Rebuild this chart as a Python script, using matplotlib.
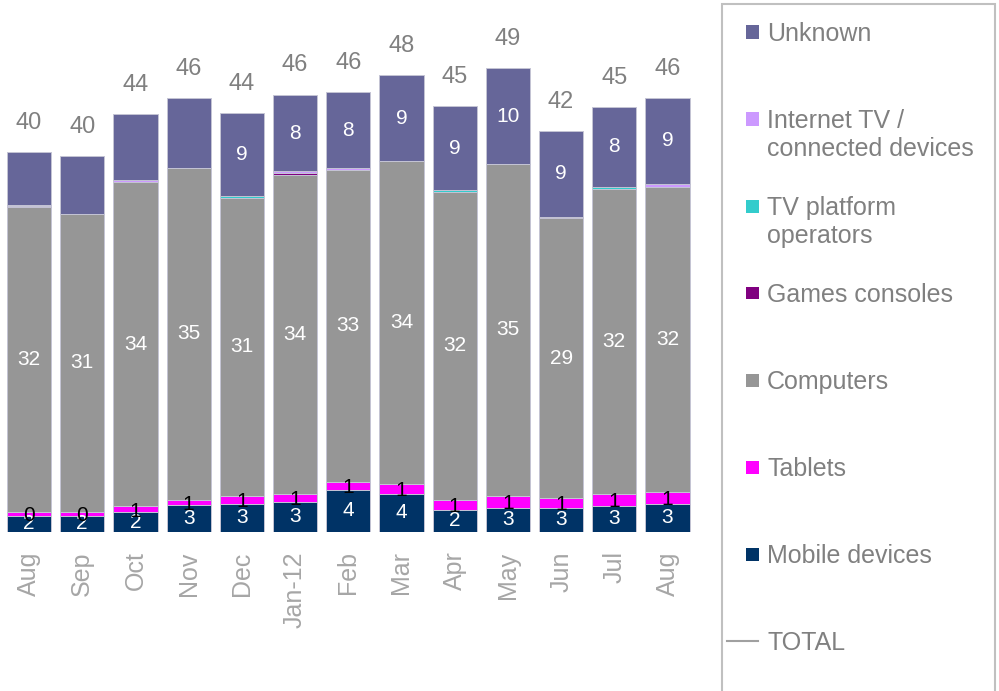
import numpy as np
import matplotlib
matplotlib.use("Agg")
import matplotlib.pyplot as plt
from matplotlib.patches import Rectangle
from matplotlib.lines import Line2D

plt.rcParams['font.family'] = ['Liberation Sans', 'DejaVu Sans']

months = ['Aug', 'Sep', 'Oct', 'Nov', 'Dec', 'Jan-12', 'Feb', 'Mar', 'Apr', 'May', 'Jun', 'Jul', 'Aug']

mobile   = [1.7, 1.7, 2.1, 2.8, 3.0, 3.2, 4.45, 4.0, 2.35, 2.56, 2.56, 2.77, 2.98]
tablets  = [0.4, 0.4, 0.6, 0.6, 0.8, 0.8, 0.84, 1.05, 1.05, 1.26, 1.05, 1.26, 1.26]
computers = [32.1, 31.4, 34.1, 34.9, 31.4, 33.6, 32.8, 34.0, 32.4, 34.9, 29.4, 32.1, 32.1]
consoles = [0.15, 0, 0, 0, 0, 0.15, 0, 0, 0, 0, 0.2, 0, 0]
tv_platform = [0, 0, 0, 0, 0.2, 0, 0, 0, 0.2, 0, 0, 0.2, 0]
internet_tv = [0.05, 0, 0.3, 0, 0, 0.2, 0.2, 0, 0, 0, 0, 0, 0.3]
unknown  = [5.6, 6.1, 6.9, 7.4, 8.7, 8.1, 8.0, 9.05, 8.8, 10.1, 8.95, 8.4, 9.05]
show_unknown_label = [False, False, False, False, True, True, True, True, True, True, True, True, True]

series = [
    ('Mobile devices', mobile, '#003366'),
    ('Tablets', tablets, '#ff00ff'),
    ('Computers', computers, '#969696'),
    ('Games consoles', consoles, '#800080'),
    ('TV platform operators', tv_platform, '#33cccc'),
    ('Internet TV / connected devices', internet_tv, '#cc99ff'),
    ('Unknown', unknown, '#666699'),
]

W, H = 999, 691
fig = plt.figure(figsize=(W / 100, H / 100), dpi=100)

# axes placed in pixel terms
ax_left, ax_right = 2.4, 694.1
ax_bottom, ax_top = 532, 9.5
ax = fig.add_axes([ax_left / W, 1 - ax_bottom / H, (ax_right - ax_left) / W, (ax_bottom - ax_top) / H])

x = np.arange(len(months))
bottom = np.zeros(len(months))
for name, vals, col in series:
    vals = np.array(vals, dtype=float)
    ax.bar(x, vals, 0.83, bottom=bottom, color=col, edgecolor='#c4c4d4', linewidth=0.7)
    mids = bottom + vals / 2
    if name == 'Mobile devices':
        for xi, m, v in zip(x, mids, vals):
            ax.text(xi, m, f"{round(v)}", ha='center', va='center', color='white', fontsize=15)
    elif name == 'Tablets':
        for xi, m, v in zip(x, mids, vals):
            ax.text(xi, m - 0.2, f"{round(v)}", ha='center', va='center', color='black', fontsize=15)
    elif name == 'Computers':
        for xi, m, v in zip(x, mids, vals):
            ax.text(xi, m, f"{round(v)}", ha='center', va='center', color='white', fontsize=15)
    elif name == 'Unknown':
        for xi, m, v, s in zip(x, mids, vals, show_unknown_label):
            if s:
                ax.text(xi, m, f"{round(v)}", ha='center', va='center', color='white', fontsize=15)
    bottom = bottom + vals

totals = bottom
ax.plot(x, totals, linestyle='none')
for xi, t in zip(x, totals):
    ax.annotate(f"{round(t)}", (xi, t), xytext=(0, 21), textcoords='offset points',
                ha='center', va='center', color='#808080', fontsize=17)

ax.set_xlim(-0.5, 12.5)
ax.set_ylim(0, 55)
ax.set_xticks(x)
ax.set_xticklabels(months, rotation=90, fontsize=18, color='#a6a6a6')
ax.tick_params(axis='x', length=0, pad=14)
ax.set_yticks([])
for s in ax.spines.values():
    s.set_visible(False)

# legend box on the right
def fx(px):
    return px / W

def fy(py):
    return 1 - py / H

fig.patches.append(Rectangle((fx(722), fy(700)), fx(995) - fx(722), fy(4) - fy(700),
                             transform=fig.transFigure, fill=False, edgecolor='#c0c0c0',
                             linewidth=1.5, clip_on=False))

legend_items = [
    ('Unknown', '#666699'),
    ('Internet TV /\nconnected devices', '#cc99ff'),
    ('TV platform\noperators', '#33cccc'),
    ('Games consoles', '#800080'),
    ('Computers', '#969696'),
    ('Tablets', '#ff00ff'),
    ('Mobile devices', '#003366'),
    ('TOTAL', None),
]
for i, (lab, col) in enumerate(legend_items):
    yc = 32 + 87 * i
    if col is None:
        fig.lines.append(Line2D([fx(727), fx(758)], [fy(yc), fy(yc)], transform=fig.transFigure,
                                color='#a0a0a0', linewidth=1.5))
    else:
        fig.patches.append(Rectangle((fx(746), fy(yc + 6.5)), fx(759) - fx(746), fy(yc - 6.5) - fy(yc + 6.5),
                                     transform=fig.transFigure, facecolor=col, edgecolor='none'))
    fig.text(fx(767), fy(yc - 10), lab, ha='left', va='top', fontsize=18, color='#808080',
             linespacing=1.2)

fig.savefig('out.png', dpi=100)
